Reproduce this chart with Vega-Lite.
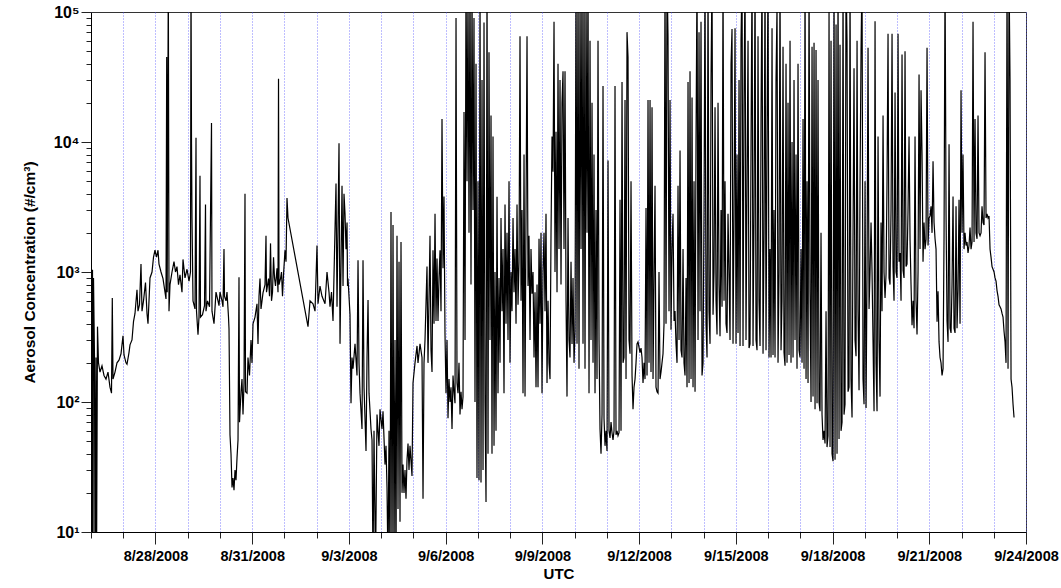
{
"$schema":"https://vega.github.io/schema/vega-lite/v6.json",
"width":935,"height":520,"autosize":"none",
"padding":{"left":91,"top":12,"right":35,"bottom":56},
"config":{"font":"Liberation Sans","view":{"stroke":"#333","strokeWidth":1}},
"data":{"format":{"parse":{"t":"utc:'%Y-%m-%d %H:%M'"}},"values":[
{"t":"2008-08-26 00:13","v":1500},{"t":"2008-08-26 00:36","v":5},{"t":"2008-08-26 01:07","v":1040},{"t":"2008-08-26 01:29","v":5},{"t":"2008-08-26 01:52","v":900},{"t":"2008-08-26 02:36","v":220},{"t":"2008-08-26 02:59","v":5},{"t":"2008-08-26 03:43","v":220},{"t":"2008-08-26 04:06","v":5},{"t":"2008-08-26 04:50","v":380},{"t":"2008-08-26 05:35","v":200},{"t":"2008-08-26 06:42","v":170},{"t":"2008-08-26 08:11","v":190},{"t":"2008-08-26 09:41","v":160},{"t":"2008-08-26 11:10","v":150},{"t":"2008-08-26 12:39","v":170},{"t":"2008-08-26 14:08","v":130},{"t":"2008-08-26 15:16","v":117},{"t":"2008-08-26 15:51","v":630},{"t":"2008-08-26 16:23","v":150},{"t":"2008-08-26 17:52","v":170},{"t":"2008-08-26 19:21","v":200},{"t":"2008-08-26 20:50","v":210},{"t":"2008-08-26 22:20","v":235},{"t":"2008-08-26 23:49","v":323},
{"t":"2008-08-27 00:34","v":230},{"t":"2008-08-27 02:03","v":200},{"t":"2008-08-27 02:48","v":195},{"t":"2008-08-27 04:17","v":240},{"t":"2008-08-27 05:02","v":275},{"t":"2008-08-27 06:31","v":300},{"t":"2008-08-27 07:38","v":415},{"t":"2008-08-27 08:45","v":480},{"t":"2008-08-27 10:14","v":730},{"t":"2008-08-27 10:59","v":500},{"t":"2008-08-27 12:06","v":560},{"t":"2008-08-27 13:13","v":1150},{"t":"2008-08-27 13:58","v":500},{"t":"2008-08-27 15:05","v":600},{"t":"2008-08-27 16:34","v":830},{"t":"2008-08-27 17:41","v":480},{"t":"2008-08-27 18:26","v":400},{"t":"2008-08-27 19:55","v":900},{"t":"2008-08-27 21:25","v":1000},{"t":"2008-08-27 22:32","v":1300},{"t":"2008-08-27 23:38","v":1470},
{"t":"2008-08-28 00:46","v":1300},{"t":"2008-08-28 01:53","v":1470},{"t":"2008-08-28 02:37","v":1150},{"t":"2008-08-28 04:07","v":1000},{"t":"2008-08-28 05:36","v":890},{"t":"2008-08-28 07:05","v":700},{"t":"2008-08-28 07:50","v":620},{"t":"2008-08-28 08:21","v":45000},{"t":"2008-08-28 08:43","v":700},{"t":"2008-08-28 09:33","v":200000},{"t":"2008-08-28 10:04","v":500},{"t":"2008-08-28 10:49","v":800},{"t":"2008-08-28 12:18","v":1000},{"t":"2008-08-28 13:47","v":1200},{"t":"2008-08-28 14:54","v":1000},{"t":"2008-08-28 16:01","v":1100},{"t":"2008-08-28 17:08","v":800},{"t":"2008-08-28 18:15","v":950},{"t":"2008-08-28 19:44","v":700},{"t":"2008-08-28 20:29","v":1250},{"t":"2008-08-28 21:58","v":900},{"t":"2008-08-28 23:28","v":1050},
{"t":"2008-08-29 00:57","v":850},{"t":"2008-08-29 02:04","v":1000},{"t":"2008-08-29 02:26","v":200000},{"t":"2008-08-29 02:49","v":9800},{"t":"2008-08-29 03:11","v":2600},{"t":"2008-08-29 03:56","v":600},{"t":"2008-08-29 05:25","v":520},{"t":"2008-08-29 06:10","v":10800},{"t":"2008-08-29 06:32","v":500},{"t":"2008-08-29 07:39","v":330},{"t":"2008-08-29 08:24","v":450},{"t":"2008-08-29 09:08","v":5500},{"t":"2008-08-29 09:31","v":450},{"t":"2008-08-29 11:00","v":470},{"t":"2008-08-29 12:29","v":550},{"t":"2008-08-29 13:14","v":3300},{"t":"2008-08-29 13:36","v":500},{"t":"2008-08-29 14:43","v":600},{"t":"2008-08-29 16:13","v":540},{"t":"2008-08-29 17:42","v":14000},{"t":"2008-08-29 18:04","v":500},{"t":"2008-08-29 19:34","v":400},{"t":"2008-08-29 21:03","v":700},{"t":"2008-08-29 22:32","v":600},{"t":"2008-08-29 23:17","v":550},
{"t":"2008-08-30 00:02","v":700},{"t":"2008-08-30 01:31","v":600},{"t":"2008-08-30 02:16","v":540},{"t":"2008-08-30 03:00","v":1500},{"t":"2008-08-30 03:23","v":650},{"t":"2008-08-30 04:30","v":600},{"t":"2008-08-30 05:14","v":700},{"t":"2008-08-30 06:21","v":450},{"t":"2008-08-30 06:44","v":365},{"t":"2008-08-30 07:28","v":56},{"t":"2008-08-30 08:13","v":40},{"t":"2008-08-30 08:58","v":22},{"t":"2008-08-30 09:42","v":26},{"t":"2008-08-30 10:27","v":21},{"t":"2008-08-30 11:12","v":30},{"t":"2008-08-30 11:56","v":25},{"t":"2008-08-30 12:41","v":37},{"t":"2008-08-30 13:26","v":51},{"t":"2008-08-30 14:10","v":910},{"t":"2008-08-30 14:33","v":70},{"t":"2008-08-30 15:40","v":120},{"t":"2008-08-30 16:24","v":150},{"t":"2008-08-30 17:09","v":80},{"t":"2008-08-30 17:54","v":140},{"t":"2008-08-30 18:38","v":4000},{"t":"2008-08-30 19:01","v":120},{"t":"2008-08-30 20:08","v":117},{"t":"2008-08-30 20:52","v":220},{"t":"2008-08-30 21:59","v":160},{"t":"2008-08-30 23:06","v":300},{"t":"2008-08-30 23:51","v":200},
{"t":"2008-08-31 00:36","v":400},{"t":"2008-08-31 02:05","v":450},{"t":"2008-08-31 03:34","v":570},{"t":"2008-08-31 04:19","v":280},{"t":"2008-08-31 05:04","v":650},{"t":"2008-08-31 05:48","v":890},{"t":"2008-08-31 06:33","v":520},{"t":"2008-08-31 07:18","v":600},{"t":"2008-08-31 08:02","v":690},{"t":"2008-08-31 09:32","v":800},{"t":"2008-08-31 10:16","v":1900},{"t":"2008-08-31 10:39","v":700},{"t":"2008-08-31 12:08","v":890},{"t":"2008-08-31 12:53","v":650},{"t":"2008-08-31 13:38","v":1660},{"t":"2008-08-31 14:22","v":600},{"t":"2008-08-31 15:07","v":700},{"t":"2008-08-31 15:52","v":1300},{"t":"2008-08-31 16:36","v":900},{"t":"2008-08-31 17:21","v":780},{"t":"2008-08-31 18:28","v":1070},{"t":"2008-08-31 19:12","v":700},{"t":"2008-08-31 19:35","v":30600},{"t":"2008-08-31 19:57","v":800},{"t":"2008-08-31 21:04","v":890},{"t":"2008-08-31 21:49","v":1000},{"t":"2008-08-31 22:33","v":650},{"t":"2008-08-31 23:18","v":950},
{"t":"2008-09-01 00:25","v":1470},{"t":"2008-09-01 01:10","v":1200},{"t":"2008-09-01 01:54","v":3700},{"t":"2008-09-01 02:39","v":2600},{"t":"2008-09-01 17:32","v":380},{"t":"2008-09-01 19:02","v":600},{"t":"2008-09-01 21:15","v":570},{"t":"2008-09-01 22:45","v":500},
{"t":"2008-09-02 00:14","v":1600},{"t":"2008-09-02 00:59","v":570},{"t":"2008-09-02 02:28","v":780},{"t":"2008-09-02 03:58","v":650},{"t":"2008-09-02 06:12","v":570},{"t":"2008-09-02 07:41","v":1000},{"t":"2008-09-02 09:10","v":700},{"t":"2008-09-02 09:55","v":540},{"t":"2008-09-02 11:02","v":700},{"t":"2008-09-02 12:09","v":420},{"t":"2008-09-02 14:23","v":4800},{"t":"2008-09-02 15:08","v":540},{"t":"2008-09-02 16:37","v":9800},{"t":"2008-09-02 17:22","v":280},{"t":"2008-09-02 18:51","v":4600},{"t":"2008-09-02 19:36","v":780},{"t":"2008-09-02 20:20","v":4000},{"t":"2008-09-02 21:05","v":2800},{"t":"2008-09-02 21:50","v":1500},{"t":"2008-09-02 22:35","v":2400},{"t":"2008-09-02 22:57","v":780},{"t":"2008-09-02 23:19","v":890},
{"t":"2008-09-03 00:48","v":470},{"t":"2008-09-03 01:33","v":98},{"t":"2008-09-03 02:18","v":220},{"t":"2008-09-03 03:02","v":180},{"t":"2008-09-03 04:32","v":280},{"t":"2008-09-03 06:01","v":160},{"t":"2008-09-03 06:46","v":1230},{"t":"2008-09-03 07:30","v":200},{"t":"2008-09-03 08:15","v":117},{"t":"2008-09-03 09:44","v":62},{"t":"2008-09-03 10:29","v":1230},{"t":"2008-09-03 11:14","v":130},{"t":"2008-09-03 12:43","v":42},{"t":"2008-09-03 13:28","v":220},{"t":"2008-09-03 14:13","v":610},{"t":"2008-09-03 14:57","v":117},{"t":"2008-09-03 16:26","v":62},{"t":"2008-09-03 17:11","v":51},{"t":"2008-09-03 17:56","v":5},{"t":"2008-09-03 18:40","v":60},{"t":"2008-09-03 19:47","v":5},{"t":"2008-09-03 20:54","v":80},{"t":"2008-09-03 22:23","v":46},{"t":"2008-09-03 23:08","v":88},
{"t":"2008-09-04 00:37","v":62},{"t":"2008-09-04 01:22","v":85},{"t":"2008-09-04 02:51","v":33},{"t":"2008-09-04 03:36","v":46},{"t":"2008-09-04 04:21","v":22},{"t":"2008-09-04 05:05","v":5},{"t":"2008-09-04 05:50","v":60},{"t":"2008-09-04 06:35","v":5},{"t":"2008-09-04 07:19","v":2900},{"t":"2008-09-04 08:04","v":5},{"t":"2008-09-04 08:49","v":2300},{"t":"2008-09-04 09:33","v":5},{"t":"2008-09-04 10:18","v":300},{"t":"2008-09-04 11:03","v":5},{"t":"2008-09-04 11:47","v":1900},{"t":"2008-09-04 12:32","v":15},{"t":"2008-09-04 13:17","v":1200},{"t":"2008-09-04 14:01","v":12},{"t":"2008-09-04 14:46","v":1700},{"t":"2008-09-04 15:31","v":20},{"t":"2008-09-04 16:15","v":33},{"t":"2008-09-04 17:00","v":20},{"t":"2008-09-04 17:45","v":30},{"t":"2008-09-04 18:29","v":18},{"t":"2008-09-04 19:14","v":36},{"t":"2008-09-04 19:59","v":48},{"t":"2008-09-04 20:43","v":30},{"t":"2008-09-04 21:28","v":46},{"t":"2008-09-04 22:13","v":35},{"t":"2008-09-04 22:57","v":27},{"t":"2008-09-04 23:42","v":140},
{"t":"2008-09-05 01:11","v":200},{"t":"2008-09-05 02:41","v":270},{"t":"2008-09-05 03:25","v":200},{"t":"2008-09-05 04:55","v":280},{"t":"2008-09-05 06:24","v":220},{"t":"2008-09-05 07:09","v":18},{"t":"2008-09-05 07:53","v":200},{"t":"2008-09-05 08:38","v":300},{"t":"2008-09-05 10:07","v":1100},{"t":"2008-09-05 10:52","v":200},{"t":"2008-09-05 12:21","v":1900},{"t":"2008-09-05 13:06","v":250},{"t":"2008-09-05 13:51","v":170},{"t":"2008-09-05 14:35","v":1470},{"t":"2008-09-05 15:20","v":400},{"t":"2008-09-05 16:05","v":2800},{"t":"2008-09-05 16:49","v":420},{"t":"2008-09-05 17:34","v":1270},{"t":"2008-09-05 18:18","v":420},{"t":"2008-09-05 19:03","v":900},{"t":"2008-09-05 19:48","v":1470},{"t":"2008-09-05 20:32","v":500},{"t":"2008-09-05 21:17","v":15000},{"t":"2008-09-05 22:02","v":1070},{"t":"2008-09-05 22:46","v":3800},{"t":"2008-09-05 23:31","v":330},
{"t":"2008-09-06 00:16","v":117},{"t":"2008-09-06 01:01","v":300},{"t":"2008-09-06 01:45","v":75},{"t":"2008-09-06 02:30","v":150},{"t":"2008-09-06 03:15","v":100},{"t":"2008-09-06 03:59","v":130},{"t":"2008-09-06 04:44","v":62},{"t":"2008-09-06 05:29","v":160},{"t":"2008-09-06 06:13","v":120},{"t":"2008-09-06 06:58","v":98},{"t":"2008-09-06 07:43","v":90000},{"t":"2008-09-06 08:27","v":140},{"t":"2008-09-06 09:12","v":117},{"t":"2008-09-06 09:56","v":200},{"t":"2008-09-06 10:41","v":80},{"t":"2008-09-06 11:26","v":120},{"t":"2008-09-06 12:11","v":88},{"t":"2008-09-06 12:55","v":110},{"t":"2008-09-06 13:40","v":17000},{"t":"2008-09-06 14:25","v":300},{"t":"2008-09-06 15:09","v":200000},{"t":"2008-09-06 15:54","v":5000},{"t":"2008-09-06 16:38","v":150000},{"t":"2008-09-06 17:23","v":2000},{"t":"2008-09-06 18:08","v":200000},{"t":"2008-09-06 18:52","v":800},{"t":"2008-09-06 19:37","v":150000},{"t":"2008-09-06 20:22","v":3000},{"t":"2008-09-06 21:06","v":90000},{"t":"2008-09-06 21:51","v":100},{"t":"2008-09-06 22:36","v":40000},{"t":"2008-09-06 23:20","v":26},
{"t":"2008-09-07 00:05","v":5000},{"t":"2008-09-07 00:50","v":25},{"t":"2008-09-07 01:35","v":150000},{"t":"2008-09-07 02:19","v":24},{"t":"2008-09-07 03:04","v":30000},{"t":"2008-09-07 03:49","v":30},{"t":"2008-09-07 04:33","v":83000},{"t":"2008-09-07 05:18","v":100},{"t":"2008-09-07 06:03","v":17},{"t":"2008-09-07 06:47","v":200000},{"t":"2008-09-07 07:32","v":40},{"t":"2008-09-07 08:16","v":49000},{"t":"2008-09-07 09:01","v":300},{"t":"2008-09-07 09:46","v":16000},{"t":"2008-09-07 10:30","v":40},{"t":"2008-09-07 11:15","v":11000},{"t":"2008-09-07 12:00","v":46},{"t":"2008-09-07 12:44","v":1000},{"t":"2008-09-07 13:29","v":60},{"t":"2008-09-07 14:14","v":3800},{"t":"2008-09-07 14:58","v":117},{"t":"2008-09-07 15:43","v":900},{"t":"2008-09-07 16:28","v":200},{"t":"2008-09-07 17:12","v":2600},{"t":"2008-09-07 17:57","v":500},{"t":"2008-09-07 18:41","v":1500},{"t":"2008-09-07 19:26","v":117},{"t":"2008-09-07 20:11","v":3300},{"t":"2008-09-07 20:56","v":400},{"t":"2008-09-07 21:40","v":2000},{"t":"2008-09-07 22:25","v":300},{"t":"2008-09-07 23:10","v":5000},{"t":"2008-09-07 23:54","v":200},
{"t":"2008-09-08 00:39","v":1000},{"t":"2008-09-08 01:24","v":500},{"t":"2008-09-08 02:09","v":2600},{"t":"2008-09-08 02:53","v":700},{"t":"2008-09-08 03:38","v":1500},{"t":"2008-09-08 04:23","v":400},{"t":"2008-09-08 05:07","v":3300},{"t":"2008-09-08 05:52","v":560},{"t":"2008-09-08 06:37","v":1200},{"t":"2008-09-08 07:21","v":65000},{"t":"2008-09-08 08:06","v":600},{"t":"2008-09-08 08:50","v":3000},{"t":"2008-09-08 09:35","v":117},{"t":"2008-09-08 10:20","v":8000},{"t":"2008-09-08 11:05","v":110},{"t":"2008-09-08 11:49","v":2800},{"t":"2008-09-08 12:34","v":65000},{"t":"2008-09-08 13:19","v":780},{"t":"2008-09-08 14:03","v":1900},{"t":"2008-09-08 14:48","v":300},{"t":"2008-09-08 15:32","v":1500},{"t":"2008-09-08 16:17","v":680},{"t":"2008-09-08 17:02","v":1000},{"t":"2008-09-08 17:47","v":220},{"t":"2008-09-08 18:31","v":700},{"t":"2008-09-08 19:16","v":130},{"t":"2008-09-08 20:01","v":800},{"t":"2008-09-08 20:45","v":130},{"t":"2008-09-08 21:30","v":1800},{"t":"2008-09-08 22:14","v":400},{"t":"2008-09-08 22:59","v":2000},{"t":"2008-09-08 23:44","v":117},
{"t":"2008-09-09 00:28","v":1000},{"t":"2008-09-09 01:13","v":2000},{"t":"2008-09-09 01:58","v":500},{"t":"2008-09-09 02:42","v":2800},{"t":"2008-09-09 03:27","v":140},{"t":"2008-09-09 04:12","v":600},{"t":"2008-09-09 04:56","v":200},{"t":"2008-09-09 05:41","v":150},{"t":"2008-09-09 06:26","v":2000},{"t":"2008-09-09 07:10","v":11000},{"t":"2008-09-09 07:55","v":5900},{"t":"2008-09-09 08:40","v":84000},{"t":"2008-09-09 09:24","v":1000},{"t":"2008-09-09 10:09","v":12000},{"t":"2008-09-09 10:54","v":700},{"t":"2008-09-09 11:38","v":40000},{"t":"2008-09-09 12:23","v":1500},{"t":"2008-09-09 13:08","v":30000},{"t":"2008-09-09 13:52","v":800},{"t":"2008-09-09 14:37","v":20000},{"t":"2008-09-09 15:22","v":35000},{"t":"2008-09-09 16:06","v":1500},{"t":"2008-09-09 16:51","v":35000},{"t":"2008-09-09 17:36","v":600},{"t":"2008-09-09 18:20","v":110},{"t":"2008-09-09 19:05","v":2600},{"t":"2008-09-09 19:50","v":300},{"t":"2008-09-09 20:34","v":220},{"t":"2008-09-09 21:19","v":1200},{"t":"2008-09-09 22:04","v":280},{"t":"2008-09-09 22:48","v":900},{"t":"2008-09-09 23:33","v":200},
{"t":"2008-09-10 00:18","v":350},{"t":"2008-09-10 01:02","v":200000},{"t":"2008-09-10 01:47","v":280},{"t":"2008-09-10 02:32","v":200000},{"t":"2008-09-10 03:16","v":180},{"t":"2008-09-10 04:01","v":150000},{"t":"2008-09-10 04:46","v":1500},{"t":"2008-09-10 05:30","v":200000},{"t":"2008-09-10 06:15","v":280},{"t":"2008-09-10 07:00","v":200000},{"t":"2008-09-10 07:44","v":180},{"t":"2008-09-10 08:29","v":150000},{"t":"2008-09-10 09:14","v":2000},{"t":"2008-09-10 09:58","v":200000},{"t":"2008-09-10 10:43","v":117},{"t":"2008-09-10 11:28","v":60000},{"t":"2008-09-10 12:12","v":300},{"t":"2008-09-10 12:57","v":20000},{"t":"2008-09-10 13:42","v":200},{"t":"2008-09-10 14:26","v":8000},{"t":"2008-09-10 15:11","v":117},{"t":"2008-09-10 15:56","v":3000},{"t":"2008-09-10 16:40","v":150},{"t":"2008-09-10 17:25","v":60000},{"t":"2008-09-10 18:10","v":300},{"t":"2008-09-10 18:54","v":62},{"t":"2008-09-10 19:39","v":40},{"t":"2008-09-10 20:24","v":80},{"t":"2008-09-10 21:08","v":27000},{"t":"2008-09-10 21:53","v":75},{"t":"2008-09-10 22:38","v":46},{"t":"2008-09-10 23:22","v":60},
{"t":"2008-09-11 00:07","v":42},{"t":"2008-09-11 00:52","v":7200},{"t":"2008-09-11 01:36","v":60},{"t":"2008-09-11 02:21","v":53},{"t":"2008-09-11 03:06","v":70},{"t":"2008-09-11 03:50","v":58},{"t":"2008-09-11 04:35","v":51},{"t":"2008-09-11 05:20","v":60},{"t":"2008-09-11 06:04","v":27000},{"t":"2008-09-11 06:49","v":56},{"t":"2008-09-11 07:34","v":60},{"t":"2008-09-11 08:18","v":55},{"t":"2008-09-11 09:03","v":58},{"t":"2008-09-11 09:48","v":3600},{"t":"2008-09-11 10:32","v":60},{"t":"2008-09-11 11:17","v":29000},{"t":"2008-09-11 12:02","v":200},{"t":"2008-09-11 12:46","v":220},{"t":"2008-09-11 13:31","v":21000},{"t":"2008-09-11 14:16","v":150},{"t":"2008-09-11 15:00","v":70000},{"t":"2008-09-11 15:45","v":45000},{"t":"2008-09-11 16:30","v":300},{"t":"2008-09-11 17:14","v":235},{"t":"2008-09-11 17:59","v":5000},{"t":"2008-09-11 18:44","v":160},{"t":"2008-09-11 19:28","v":88},{"t":"2008-09-11 20:13","v":130},{"t":"2008-09-11 20:58","v":150},{"t":"2008-09-11 21:42","v":200},{"t":"2008-09-11 22:27","v":280},{"t":"2008-09-11 23:11","v":290},
{"t":"2008-09-12 00:41","v":240},{"t":"2008-09-12 01:26","v":260},{"t":"2008-09-12 02:10","v":220},{"t":"2008-09-12 02:55","v":140},{"t":"2008-09-12 03:40","v":200},{"t":"2008-09-12 04:24","v":150},{"t":"2008-09-12 05:09","v":3100},{"t":"2008-09-12 05:54","v":160},{"t":"2008-09-12 06:38","v":21000},{"t":"2008-09-12 07:23","v":200},{"t":"2008-09-12 08:08","v":21000},{"t":"2008-09-12 08:52","v":170},{"t":"2008-09-12 09:37","v":18500},{"t":"2008-09-12 10:22","v":150},{"t":"2008-09-12 11:06","v":900},{"t":"2008-09-12 11:51","v":4600},{"t":"2008-09-12 12:35","v":130},{"t":"2008-09-12 13:20","v":120},{"t":"2008-09-12 14:05","v":117},{"t":"2008-09-12 14:49","v":1000},{"t":"2008-09-12 15:34","v":150},{"t":"2008-09-12 16:19","v":170},{"t":"2008-09-12 17:03","v":200},{"t":"2008-09-12 17:48","v":235},{"t":"2008-09-12 18:33","v":400},{"t":"2008-09-12 19:17","v":200000},{"t":"2008-09-12 20:02","v":400},{"t":"2008-09-12 20:47","v":200000},{"t":"2008-09-12 21:31","v":65000},{"t":"2008-09-12 22:16","v":500},{"t":"2008-09-12 23:01","v":21000},{"t":"2008-09-12 23:45","v":360},
{"t":"2008-09-13 00:30","v":1500},{"t":"2008-09-13 01:15","v":2800},{"t":"2008-09-13 02:00","v":420},{"t":"2008-09-13 02:44","v":500},{"t":"2008-09-13 03:29","v":280},{"t":"2008-09-13 04:14","v":200},{"t":"2008-09-13 04:58","v":4600},{"t":"2008-09-13 05:43","v":300},{"t":"2008-09-13 06:28","v":8600},{"t":"2008-09-13 07:12","v":250},{"t":"2008-09-13 07:57","v":220},{"t":"2008-09-13 08:42","v":1500},{"t":"2008-09-13 09:26","v":200},{"t":"2008-09-13 10:11","v":160},{"t":"2008-09-13 10:56","v":900},{"t":"2008-09-13 11:40","v":130},{"t":"2008-09-13 12:25","v":29000},{"t":"2008-09-13 13:10","v":140},{"t":"2008-09-13 13:54","v":35000},{"t":"2008-09-13 14:39","v":150},{"t":"2008-09-13 15:24","v":22000},{"t":"2008-09-13 16:08","v":130},{"t":"2008-09-13 16:53","v":5000},{"t":"2008-09-13 17:38","v":120},{"t":"2008-09-13 18:22","v":10000},{"t":"2008-09-13 19:07","v":200000},{"t":"2008-09-13 19:52","v":300},{"t":"2008-09-13 20:36","v":70000},{"t":"2008-09-13 21:21","v":500},{"t":"2008-09-13 22:05","v":84000},{"t":"2008-09-13 22:50","v":160},{"t":"2008-09-13 23:35","v":200},
{"t":"2008-09-14 00:20","v":3000},{"t":"2008-09-14 01:04","v":200000},{"t":"2008-09-14 01:49","v":400},{"t":"2008-09-14 02:34","v":220},{"t":"2008-09-14 03:18","v":200000},{"t":"2008-09-14 04:03","v":500},{"t":"2008-09-14 04:48","v":280},{"t":"2008-09-14 05:32","v":30000},{"t":"2008-09-14 06:17","v":200000},{"t":"2008-09-14 07:02","v":470},{"t":"2008-09-14 07:46","v":1000},{"t":"2008-09-14 08:31","v":18500},{"t":"2008-09-14 09:16","v":600},{"t":"2008-09-14 10:00","v":330},{"t":"2008-09-14 10:45","v":20000},{"t":"2008-09-14 11:30","v":800},{"t":"2008-09-14 12:14","v":320},{"t":"2008-09-14 12:59","v":3000},{"t":"2008-09-14 13:44","v":540},{"t":"2008-09-14 14:28","v":200000},{"t":"2008-09-14 15:13","v":600},{"t":"2008-09-14 15:58","v":5000},{"t":"2008-09-14 16:42","v":400},{"t":"2008-09-14 17:27","v":340},{"t":"2008-09-14 18:11","v":2800},{"t":"2008-09-14 18:56","v":1000},{"t":"2008-09-14 19:41","v":300},{"t":"2008-09-14 20:26","v":40000},{"t":"2008-09-14 21:10","v":74000},{"t":"2008-09-14 21:55","v":280},{"t":"2008-09-14 22:40","v":3000},{"t":"2008-09-14 23:24","v":75000},
{"t":"2008-09-15 00:09","v":280},{"t":"2008-09-15 00:53","v":8000},{"t":"2008-09-15 01:38","v":340},{"t":"2008-09-15 02:23","v":30000},{"t":"2008-09-15 03:08","v":270},{"t":"2008-09-15 03:52","v":60000},{"t":"2008-09-15 04:37","v":200000},{"t":"2008-09-15 05:21","v":270},{"t":"2008-09-15 06:06","v":20000},{"t":"2008-09-15 06:51","v":200000},{"t":"2008-09-15 07:35","v":300},{"t":"2008-09-15 08:20","v":5000},{"t":"2008-09-15 09:05","v":60000},{"t":"2008-09-15 09:50","v":260},{"t":"2008-09-15 10:34","v":280},{"t":"2008-09-15 11:19","v":10000},{"t":"2008-09-15 12:04","v":200000},{"t":"2008-09-15 12:48","v":270},{"t":"2008-09-15 13:33","v":3000},{"t":"2008-09-15 14:18","v":200000},{"t":"2008-09-15 15:02","v":300},{"t":"2008-09-15 15:47","v":250},{"t":"2008-09-15 16:31","v":65000},{"t":"2008-09-15 17:16","v":600},{"t":"2008-09-15 18:01","v":270},{"t":"2008-09-15 18:45","v":15000},{"t":"2008-09-15 19:30","v":200000},{"t":"2008-09-15 20:15","v":235},{"t":"2008-09-15 20:59","v":2000},{"t":"2008-09-15 21:44","v":200000},{"t":"2008-09-15 22:29","v":250},{"t":"2008-09-15 23:13","v":10000},{"t":"2008-09-15 23:58","v":200000},
{"t":"2008-09-16 00:43","v":220},{"t":"2008-09-16 01:27","v":1500},{"t":"2008-09-16 02:12","v":220},{"t":"2008-09-16 02:57","v":75000},{"t":"2008-09-16 03:41","v":230},{"t":"2008-09-16 04:26","v":3000},{"t":"2008-09-16 05:11","v":220},{"t":"2008-09-16 05:55","v":30000},{"t":"2008-09-16 06:40","v":110000},{"t":"2008-09-16 07:25","v":200},{"t":"2008-09-16 08:10","v":1000},{"t":"2008-09-16 08:54","v":200000},{"t":"2008-09-16 09:39","v":250},{"t":"2008-09-16 10:23","v":600},{"t":"2008-09-16 11:08","v":54000},{"t":"2008-09-16 11:53","v":240},{"t":"2008-09-16 12:37","v":190},{"t":"2008-09-16 13:22","v":40000},{"t":"2008-09-16 14:07","v":200},{"t":"2008-09-16 14:51","v":20000},{"t":"2008-09-16 15:36","v":230},{"t":"2008-09-16 16:21","v":60000},{"t":"2008-09-16 17:05","v":200},{"t":"2008-09-16 17:50","v":10000},{"t":"2008-09-16 18:35","v":220},{"t":"2008-09-16 19:19","v":30000},{"t":"2008-09-16 20:04","v":300},{"t":"2008-09-16 20:49","v":8000},{"t":"2008-09-16 21:33","v":180},{"t":"2008-09-16 22:18","v":40000},{"t":"2008-09-16 23:03","v":250},{"t":"2008-09-16 23:47","v":220},
{"t":"2008-09-17 00:32","v":1500},{"t":"2008-09-17 01:17","v":200},{"t":"2008-09-17 02:02","v":15000},{"t":"2008-09-17 02:46","v":180},{"t":"2008-09-17 03:31","v":200000},{"t":"2008-09-17 04:16","v":150},{"t":"2008-09-17 05:00","v":5000},{"t":"2008-09-17 05:45","v":140},{"t":"2008-09-17 06:30","v":200000},{"t":"2008-09-17 07:14","v":700},{"t":"2008-09-17 07:59","v":100},{"t":"2008-09-17 08:44","v":54000},{"t":"2008-09-17 09:28","v":110},{"t":"2008-09-17 10:13","v":58000},{"t":"2008-09-17 10:58","v":88},{"t":"2008-09-17 11:42","v":51000},{"t":"2008-09-17 12:27","v":98},{"t":"2008-09-17 13:11","v":30000},{"t":"2008-09-17 13:56","v":100},{"t":"2008-09-17 14:41","v":85},{"t":"2008-09-17 15:25","v":2000},{"t":"2008-09-17 16:10","v":80},{"t":"2008-09-17 16:55","v":51},{"t":"2008-09-17 17:40","v":60},{"t":"2008-09-17 18:24","v":48},{"t":"2008-09-17 19:09","v":500},{"t":"2008-09-17 19:53","v":45},{"t":"2008-09-17 20:38","v":55},{"t":"2008-09-17 21:23","v":100000},{"t":"2008-09-17 22:07","v":45},{"t":"2008-09-17 22:52","v":60000},{"t":"2008-09-17 23:37","v":40},
{"t":"2008-09-18 00:21","v":35},{"t":"2008-09-18 01:06","v":200000},{"t":"2008-09-18 01:51","v":36},{"t":"2008-09-18 02:36","v":80000},{"t":"2008-09-18 03:20","v":40},{"t":"2008-09-18 04:05","v":200000},{"t":"2008-09-18 04:50","v":52},{"t":"2008-09-18 05:34","v":56000},{"t":"2008-09-18 06:19","v":60},{"t":"2008-09-18 07:04","v":70},{"t":"2008-09-18 07:48","v":200000},{"t":"2008-09-18 08:33","v":80},{"t":"2008-09-18 09:17","v":96},{"t":"2008-09-18 10:02","v":200000},{"t":"2008-09-18 10:47","v":60000},{"t":"2008-09-18 11:32","v":120},{"t":"2008-09-18 12:16","v":130},{"t":"2008-09-18 13:01","v":200000},{"t":"2008-09-18 13:45","v":150},{"t":"2008-09-18 14:30","v":76},{"t":"2008-09-18 15:15","v":2000},{"t":"2008-09-18 15:59","v":37000},{"t":"2008-09-18 16:44","v":300},{"t":"2008-09-18 17:29","v":225},{"t":"2008-09-18 18:14","v":60000},{"t":"2008-09-18 18:58","v":500},{"t":"2008-09-18 19:43","v":123},{"t":"2008-09-18 20:28","v":5000},{"t":"2008-09-18 21:12","v":50000},{"t":"2008-09-18 21:57","v":200000},{"t":"2008-09-18 22:41","v":150},{"t":"2008-09-18 23:26","v":96},
{"t":"2008-09-19 00:11","v":5000},{"t":"2008-09-19 00:56","v":90},{"t":"2008-09-19 01:40","v":1000},{"t":"2008-09-19 02:25","v":53000},{"t":"2008-09-19 03:10","v":520},{"t":"2008-09-19 03:54","v":1000},{"t":"2008-09-19 04:39","v":2400},{"t":"2008-09-19 05:24","v":1000},{"t":"2008-09-19 06:08","v":290},{"t":"2008-09-19 06:53","v":85},{"t":"2008-09-19 07:38","v":85000},{"t":"2008-09-19 08:22","v":200},{"t":"2008-09-19 09:07","v":85},{"t":"2008-09-19 09:52","v":11000},{"t":"2008-09-19 10:36","v":300},{"t":"2008-09-19 11:21","v":110},{"t":"2008-09-19 12:05","v":2400},{"t":"2008-09-19 12:50","v":500},{"t":"2008-09-19 13:35","v":16000},{"t":"2008-09-19 14:19","v":1000},{"t":"2008-09-19 15:04","v":630},{"t":"2008-09-19 15:49","v":960},{"t":"2008-09-19 16:33","v":5000},{"t":"2008-09-19 17:18","v":68000},{"t":"2008-09-19 18:03","v":900},{"t":"2008-09-19 18:47","v":800},{"t":"2008-09-19 19:32","v":3000},{"t":"2008-09-19 20:17","v":68000},{"t":"2008-09-19 21:01","v":1100},{"t":"2008-09-19 21:46","v":600},{"t":"2008-09-19 22:31","v":24000},{"t":"2008-09-19 23:16","v":1000},
{"t":"2008-09-20 00:00","v":900},{"t":"2008-09-20 00:45","v":68000},{"t":"2008-09-20 01:29","v":1200},{"t":"2008-09-20 02:14","v":1400},{"t":"2008-09-20 02:59","v":600},{"t":"2008-09-20 03:43","v":47000},{"t":"2008-09-20 04:28","v":1030},{"t":"2008-09-20 05:13","v":900},{"t":"2008-09-20 05:57","v":50000},{"t":"2008-09-20 06:42","v":1100},{"t":"2008-09-20 07:26","v":1150},{"t":"2008-09-20 08:11","v":3000},{"t":"2008-09-20 08:56","v":11000},{"t":"2008-09-20 09:41","v":1780},{"t":"2008-09-20 10:25","v":800},{"t":"2008-09-20 11:10","v":390},{"t":"2008-09-20 11:55","v":600},{"t":"2008-09-20 12:39","v":370},{"t":"2008-09-20 13:24","v":11000},{"t":"2008-09-20 14:08","v":600},{"t":"2008-09-20 14:53","v":330},{"t":"2008-09-20 15:38","v":1000},{"t":"2008-09-20 16:23","v":33000},{"t":"2008-09-20 17:07","v":1500},{"t":"2008-09-20 17:52","v":25000},{"t":"2008-09-20 18:37","v":8000},{"t":"2008-09-20 19:21","v":1200},{"t":"2008-09-20 20:06","v":2400},{"t":"2008-09-20 20:50","v":1500},{"t":"2008-09-20 21:35","v":1780},{"t":"2008-09-20 22:20","v":53000},{"t":"2008-09-20 23:05","v":1600},{"t":"2008-09-20 23:49","v":2600},
{"t":"2008-09-21 00:34","v":2700},{"t":"2008-09-21 01:19","v":3200},{"t":"2008-09-21 02:04","v":2000},{"t":"2008-09-21 02:48","v":7100},{"t":"2008-09-21 03:33","v":2400},{"t":"2008-09-21 04:17","v":1800},{"t":"2008-09-21 05:02","v":1500},{"t":"2008-09-21 05:47","v":415},{"t":"2008-09-21 06:31","v":710},{"t":"2008-09-21 07:16","v":290},{"t":"2008-09-21 08:01","v":220},{"t":"2008-09-21 08:45","v":200},{"t":"2008-09-21 09:30","v":160},{"t":"2008-09-21 10:15","v":180},{"t":"2008-09-21 10:59","v":1800},{"t":"2008-09-21 11:44","v":200000},{"t":"2008-09-21 12:29","v":2800},{"t":"2008-09-21 13:13","v":420},{"t":"2008-09-21 13:58","v":290},{"t":"2008-09-21 14:43","v":9600},{"t":"2008-09-21 15:27","v":370},{"t":"2008-09-21 16:12","v":340},{"t":"2008-09-21 16:56","v":800},{"t":"2008-09-21 17:41","v":3800},{"t":"2008-09-21 18:26","v":370},{"t":"2008-09-21 19:11","v":340},{"t":"2008-09-21 19:55","v":3200},{"t":"2008-09-21 20:40","v":370},{"t":"2008-09-21 21:25","v":730},{"t":"2008-09-21 22:09","v":3600},{"t":"2008-09-21 22:54","v":400},{"t":"2008-09-21 23:38","v":25000},
{"t":"2008-09-22 00:23","v":2000},{"t":"2008-09-22 01:07","v":8000},{"t":"2008-09-22 01:52","v":1500},{"t":"2008-09-22 02:37","v":2000},{"t":"2008-09-22 03:21","v":1600},{"t":"2008-09-22 04:06","v":1700},{"t":"2008-09-22 04:51","v":1400},{"t":"2008-09-22 05:35","v":1600},{"t":"2008-09-22 06:20","v":2200},{"t":"2008-09-22 07:05","v":1500},{"t":"2008-09-22 07:50","v":1700},{"t":"2008-09-22 08:34","v":84000},{"t":"2008-09-22 09:19","v":1700},{"t":"2008-09-22 10:04","v":15000},{"t":"2008-09-22 10:48","v":2000},{"t":"2008-09-22 11:33","v":1800},{"t":"2008-09-22 12:17","v":16000},{"t":"2008-09-22 13:02","v":2000},{"t":"2008-09-22 13:47","v":1900},{"t":"2008-09-22 14:32","v":2000},{"t":"2008-09-22 15:16","v":3200},{"t":"2008-09-22 16:01","v":2400},{"t":"2008-09-22 16:46","v":2300},{"t":"2008-09-22 17:30","v":49000},{"t":"2008-09-22 18:15","v":2600},{"t":"2008-09-22 18:59","v":2800},{"t":"2008-09-22 19:44","v":2600},{"t":"2008-09-22 20:29","v":2700},{"t":"2008-09-22 21:14","v":1500},{"t":"2008-09-22 21:58","v":1300},{"t":"2008-09-22 22:43","v":1100},{"t":"2008-09-22 23:28","v":1050},
{"t":"2008-09-23 00:13","v":1000},{"t":"2008-09-23 00:57","v":900},{"t":"2008-09-23 01:42","v":850},{"t":"2008-09-23 02:26","v":720},{"t":"2008-09-23 03:11","v":650},{"t":"2008-09-23 03:56","v":560},{"t":"2008-09-23 04:40","v":540},{"t":"2008-09-23 05:25","v":520},{"t":"2008-09-23 06:10","v":480},{"t":"2008-09-23 06:54","v":450},{"t":"2008-09-23 07:39","v":350},{"t":"2008-09-23 08:24","v":290},{"t":"2008-09-23 09:08","v":200},{"t":"2008-09-23 09:53","v":200000},{"t":"2008-09-23 10:38","v":180},{"t":"2008-09-23 11:22","v":200000},{"t":"2008-09-23 12:07","v":30000},{"t":"2008-09-23 12:52","v":150},{"t":"2008-09-23 13:36","v":130},{"t":"2008-09-23 14:21","v":96},{"t":"2008-09-23 15:06","v":76}
]},
"layer":[
{"mark":{"type":"line","color":"#000","strokeWidth":1.2,"clip":true},
"encoding":{
"x":{"field":"t","type":"temporal","scale":{"type":"utc","domain":[{"year":2008,"month":8,"date":26,"utc":true},{"year":2008,"month":9,"date":24,"utc":true}]},
"axis":{"orient":"bottom","title":null,"labels":false,"tickSize":6,"tickColor":"#222","domainColor":"#000","grid":true,"gridColor":"#5050ff","gridDash":[1,2],"gridWidth":1,"gridOpacity":0.75,
"values":[{"year":2008,"month":8,"date":26,"utc":true},{"year":2008,"month":8,"date":27,"utc":true},{"year":2008,"month":8,"date":28,"utc":true},{"year":2008,"month":8,"date":29,"utc":true},{"year":2008,"month":8,"date":30,"utc":true},{"year":2008,"month":8,"date":31,"utc":true},{"year":2008,"month":9,"date":1,"utc":true},{"year":2008,"month":9,"date":2,"utc":true},{"year":2008,"month":9,"date":3,"utc":true},{"year":2008,"month":9,"date":4,"utc":true},{"year":2008,"month":9,"date":5,"utc":true},{"year":2008,"month":9,"date":6,"utc":true},{"year":2008,"month":9,"date":7,"utc":true},{"year":2008,"month":9,"date":8,"utc":true},{"year":2008,"month":9,"date":9,"utc":true},{"year":2008,"month":9,"date":10,"utc":true},{"year":2008,"month":9,"date":11,"utc":true},{"year":2008,"month":9,"date":12,"utc":true},{"year":2008,"month":9,"date":13,"utc":true},{"year":2008,"month":9,"date":14,"utc":true},{"year":2008,"month":9,"date":15,"utc":true},{"year":2008,"month":9,"date":16,"utc":true},{"year":2008,"month":9,"date":17,"utc":true},{"year":2008,"month":9,"date":18,"utc":true},{"year":2008,"month":9,"date":19,"utc":true},{"year":2008,"month":9,"date":20,"utc":true},{"year":2008,"month":9,"date":21,"utc":true},{"year":2008,"month":9,"date":22,"utc":true},{"year":2008,"month":9,"date":23,"utc":true},{"year":2008,"month":9,"date":24,"utc":true}]}},
"y":{"field":"v","type":"quantitative","scale":{"type":"log","domain":[10,100000]},
"axis":{"orient":"left","title":null,"labels":false,"grid":false,"tickSize":5,"tickColor":"#222","domainColor":"#000",
"values":[20,30,40,50,60,70,80,90,200,300,400,500,600,700,800,900,2000,3000,4000,5000,6000,7000,8000,9000,20000,30000,40000,50000,60000,70000,80000,90000]}}
}},
{"mark":{"type":"line","strokeOpacity":0,"clip":true},
"encoding":{
"x":{"field":"t","type":"temporal",
"axis":{"orient":"bottom","title":"UTC","titleFontSize":15,"titleFontWeight":"bold","titleColor":"#000","titlePadding":4,"domain":false,"grid":false,"tickSize":12,"tickColor":"#222","labelExpr":"utcFormat(datum.value, '%-m/%-d/%Y')","labelFontSize":14.5,"labelFontWeight":"bold","labelColor":"#000","labelPadding":5,"labelFlush":false,"labelOverlap":false,"labelBound":false,
"values":[{"year":2008,"month":8,"date":28,"utc":true},{"year":2008,"month":8,"date":31,"utc":true},{"year":2008,"month":9,"date":3,"utc":true},{"year":2008,"month":9,"date":6,"utc":true},{"year":2008,"month":9,"date":9,"utc":true},{"year":2008,"month":9,"date":12,"utc":true},{"year":2008,"month":9,"date":15,"utc":true},{"year":2008,"month":9,"date":18,"utc":true},{"year":2008,"month":9,"date":21,"utc":true},{"year":2008,"month":9,"date":24,"utc":true}]}},
"y":{"field":"v","type":"quantitative",
"axis":{"orient":"left","title":"Aerosol Concentration (#/cm³)","titleFontSize":15.5,"titleFontWeight":"bold","titleColor":"#000","titlePadding":16,"domain":false,"grid":false,"tickSize":10,"tickColor":"#222","labelFontSize":16,"labelFontWeight":"bold","labelColor":"#000","labelPadding":2,"labelFlush":false,"labelOverlap":false,"labelBound":false,
"values":[10,100,1000,10000,100000],"labelExpr":"'10' + ['⁰','¹','²','³','⁴','⁵'][round(log(datum.value)/LN10)]"}}
}}
],
"resolve":{"axis":{"x":"independent","y":"independent"}}
}
